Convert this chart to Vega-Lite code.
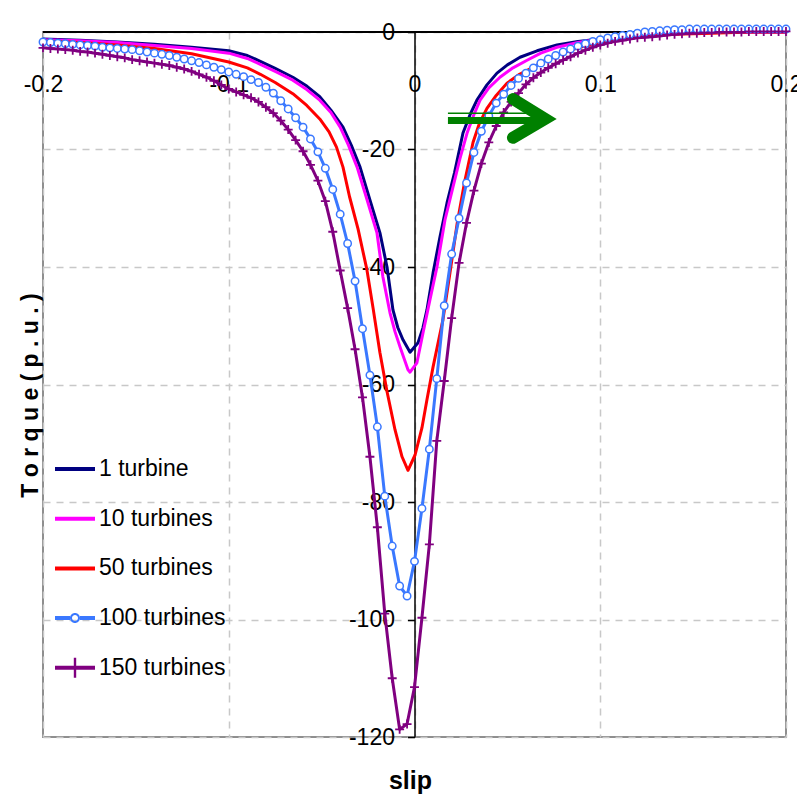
{
  "$schema": "https://vega.github.io/schema/vega-lite/v6.json",
  "width": 743,
  "height": 705,
  "autosize": "none",
  "padding": {"left": 43, "top": 32, "right": 11, "bottom": 61},
  "background": "white",
  "config": {
    "view": {"stroke": "#8f8f8f", "strokeWidth": 2},
    "font": "Liberation Sans, Arial, sans-serif"
  },
  "data": {
    "values": [
      {"series": "1 turbine", "slip": -0.2, "torque": -1.2},
      {"series": "1 turbine", "slip": -0.18, "torque": -1.4},
      {"series": "1 turbine", "slip": -0.16, "torque": -1.7},
      {"series": "1 turbine", "slip": -0.14, "torque": -2.1},
      {"series": "1 turbine", "slip": -0.12, "torque": -2.6},
      {"series": "1 turbine", "slip": -0.1, "torque": -3.2},
      {"series": "1 turbine", "slip": -0.09, "torque": -4.0},
      {"series": "1 turbine", "slip": -0.083, "torque": -5.0},
      {"series": "1 turbine", "slip": -0.075, "torque": -6.2},
      {"series": "1 turbine", "slip": -0.0655, "torque": -7.7},
      {"series": "1 turbine", "slip": -0.058, "torque": -9.2},
      {"series": "1 turbine", "slip": -0.051, "torque": -11.0},
      {"series": "1 turbine", "slip": -0.045, "torque": -13.3},
      {"series": "1 turbine", "slip": -0.0385, "torque": -16.2},
      {"series": "1 turbine", "slip": -0.034, "torque": -19.3},
      {"series": "1 turbine", "slip": -0.0293, "torque": -23.0},
      {"series": "1 turbine", "slip": -0.024, "torque": -28.6},
      {"series": "1 turbine", "slip": -0.0186, "torque": -34.2},
      {"series": "1 turbine", "slip": -0.0148, "torque": -40.0},
      {"series": "1 turbine", "slip": -0.0116, "torque": -47.3},
      {"series": "1 turbine", "slip": -0.009, "torque": -50.3},
      {"series": "1 turbine", "slip": -0.0062, "torque": -52.4},
      {"series": "1 turbine", "slip": -0.0024, "torque": -54.5},
      {"series": "1 turbine", "slip": 0.0019, "torque": -52.9},
      {"series": "1 turbine", "slip": 0.0045, "torque": -50.4},
      {"series": "1 turbine", "slip": 0.0067, "torque": -47.3},
      {"series": "1 turbine", "slip": 0.01, "torque": -41.0},
      {"series": "1 turbine", "slip": 0.0137, "torque": -34.9},
      {"series": "1 turbine", "slip": 0.0175, "torque": -29.1},
      {"series": "1 turbine", "slip": 0.0215, "torque": -24.0},
      {"series": "1 turbine", "slip": 0.0261, "torque": -17.2},
      {"series": "1 turbine", "slip": 0.03, "torque": -14.0},
      {"series": "1 turbine", "slip": 0.0336, "torque": -11.6},
      {"series": "1 turbine", "slip": 0.039, "torque": -9.0},
      {"series": "1 turbine", "slip": 0.0444, "torque": -7.0},
      {"series": "1 turbine", "slip": 0.05, "torque": -5.6},
      {"series": "1 turbine", "slip": 0.0568, "torque": -4.3},
      {"series": "1 turbine", "slip": 0.066, "torque": -3.2},
      {"series": "1 turbine", "slip": 0.0767, "torque": -2.2},
      {"series": "1 turbine", "slip": 0.088, "torque": -1.6},
      {"series": "1 turbine", "slip": 0.1, "torque": -1.2},
      {"series": "1 turbine", "slip": 0.12, "torque": -0.6},
      {"series": "1 turbine", "slip": 0.14, "torque": -0.3},
      {"series": "1 turbine", "slip": 0.16, "torque": -0.1},
      {"series": "1 turbine", "slip": 0.18, "torque": 0.0},
      {"series": "1 turbine", "slip": 0.2, "torque": 0.0},

      {"series": "10 turbines", "slip": -0.2, "torque": -1.3},
      {"series": "10 turbines", "slip": -0.18, "torque": -1.5},
      {"series": "10 turbines", "slip": -0.16, "torque": -1.8},
      {"series": "10 turbines", "slip": -0.14, "torque": -2.3},
      {"series": "10 turbines", "slip": -0.12, "torque": -2.8},
      {"series": "10 turbines", "slip": -0.1, "torque": -3.6},
      {"series": "10 turbines", "slip": -0.09, "torque": -4.5},
      {"series": "10 turbines", "slip": -0.083, "torque": -5.5},
      {"series": "10 turbines", "slip": -0.075, "torque": -6.7},
      {"series": "10 turbines", "slip": -0.0655, "torque": -8.2},
      {"series": "10 turbines", "slip": -0.058, "torque": -9.8},
      {"series": "10 turbines", "slip": -0.051, "torque": -11.6},
      {"series": "10 turbines", "slip": -0.045, "torque": -13.7},
      {"series": "10 turbines", "slip": -0.04, "torque": -16.2},
      {"series": "10 turbines", "slip": -0.0355, "torque": -19.3},
      {"series": "10 turbines", "slip": -0.0309, "torque": -23.0},
      {"series": "10 turbines", "slip": -0.0255, "torque": -28.6},
      {"series": "10 turbines", "slip": -0.0202, "torque": -34.2},
      {"series": "10 turbines", "slip": -0.017, "torque": -41.7},
      {"series": "10 turbines", "slip": -0.0132, "torque": -47.8},
      {"series": "10 turbines", "slip": -0.0105, "torque": -51.0},
      {"series": "10 turbines", "slip": -0.0078, "torque": -53.6},
      {"series": "10 turbines", "slip": -0.0035, "torque": -57.5},
      {"series": "10 turbines", "slip": -0.0024, "torque": -57.9},
      {"series": "10 turbines", "slip": 0.0013, "torque": -56.3},
      {"series": "10 turbines", "slip": 0.0046, "torque": -51.2},
      {"series": "10 turbines", "slip": 0.0083, "torque": -45.6},
      {"series": "10 turbines", "slip": 0.0121, "torque": -40.0},
      {"series": "10 turbines", "slip": 0.0164, "torque": -32.0},
      {"series": "10 turbines", "slip": 0.0207, "torque": -26.4},
      {"series": "10 turbines", "slip": 0.0245, "torque": -21.5},
      {"series": "10 turbines", "slip": 0.0283, "torque": -17.2},
      {"series": "10 turbines", "slip": 0.0318, "torque": -14.2},
      {"series": "10 turbines", "slip": 0.0353, "torque": -11.6},
      {"series": "10 turbines", "slip": 0.04, "torque": -9.5},
      {"series": "10 turbines", "slip": 0.046, "torque": -7.7},
      {"series": "10 turbines", "slip": 0.053, "torque": -6.1},
      {"series": "10 turbines", "slip": 0.0606, "torque": -4.8},
      {"series": "10 turbines", "slip": 0.068, "torque": -3.6},
      {"series": "10 turbines", "slip": 0.0767, "torque": -2.6},
      {"series": "10 turbines", "slip": 0.088, "torque": -1.8},
      {"series": "10 turbines", "slip": 0.1, "torque": -1.2},
      {"series": "10 turbines", "slip": 0.12, "torque": -0.6},
      {"series": "10 turbines", "slip": 0.14, "torque": -0.3},
      {"series": "10 turbines", "slip": 0.16, "torque": -0.1},
      {"series": "10 turbines", "slip": 0.18, "torque": 0.0},
      {"series": "10 turbines", "slip": 0.2, "torque": 0.0},

      {"series": "50 turbines", "slip": -0.2, "torque": -1.5},
      {"series": "50 turbines", "slip": -0.18, "torque": -1.8},
      {"series": "50 turbines", "slip": -0.16, "torque": -2.2},
      {"series": "50 turbines", "slip": -0.14, "torque": -2.8},
      {"series": "50 turbines", "slip": -0.12, "torque": -3.7},
      {"series": "50 turbines", "slip": -0.1, "torque": -5.1},
      {"series": "50 turbines", "slip": -0.09, "torque": -6.1},
      {"series": "50 turbines", "slip": -0.083, "torque": -7.2},
      {"series": "50 turbines", "slip": -0.075, "torque": -8.6},
      {"series": "50 turbines", "slip": -0.0655, "torque": -10.5},
      {"series": "50 turbines", "slip": -0.058, "torque": -12.5},
      {"series": "50 turbines", "slip": -0.051, "torque": -14.8},
      {"series": "50 turbines", "slip": -0.046, "torque": -17.0},
      {"series": "50 turbines", "slip": -0.042, "torque": -19.6},
      {"series": "50 turbines", "slip": -0.0385, "torque": -23.0},
      {"series": "50 turbines", "slip": -0.035, "torque": -28.0},
      {"series": "50 turbines", "slip": -0.0304, "torque": -33.5},
      {"series": "50 turbines", "slip": -0.0256, "torque": -40.5},
      {"series": "50 turbines", "slip": -0.0223, "torque": -47.0},
      {"series": "50 turbines", "slip": -0.0186, "torque": -54.6},
      {"series": "50 turbines", "slip": -0.0148, "torque": -61.2},
      {"series": "50 turbines", "slip": -0.0105, "torque": -67.7},
      {"series": "50 turbines", "slip": -0.0067, "torque": -72.3},
      {"series": "50 turbines", "slip": -0.0035, "torque": -74.6},
      {"series": "50 turbines", "slip": 0.0003, "torque": -72.0},
      {"series": "50 turbines", "slip": 0.004, "torque": -67.4},
      {"series": "50 turbines", "slip": 0.0067, "torque": -62.6},
      {"series": "50 turbines", "slip": 0.01, "torque": -57.0},
      {"series": "50 turbines", "slip": 0.0153, "torque": -49.0},
      {"series": "50 turbines", "slip": 0.0191, "torque": -41.0},
      {"series": "50 turbines", "slip": 0.023, "torque": -32.5},
      {"series": "50 turbines", "slip": 0.027, "torque": -25.5},
      {"series": "50 turbines", "slip": 0.0315, "torque": -18.8},
      {"series": "50 turbines", "slip": 0.035, "torque": -15.5},
      {"series": "50 turbines", "slip": 0.039, "torque": -13.0},
      {"series": "50 turbines", "slip": 0.044, "torque": -10.8},
      {"series": "50 turbines", "slip": 0.0498, "torque": -8.7},
      {"series": "50 turbines", "slip": 0.056, "torque": -7.3},
      {"series": "50 turbines", "slip": 0.0638, "torque": -6.0},
      {"series": "50 turbines", "slip": 0.07, "torque": -4.9},
      {"series": "50 turbines", "slip": 0.0767, "torque": -3.9},
      {"series": "50 turbines", "slip": 0.088, "torque": -2.7},
      {"series": "50 turbines", "slip": 0.1, "torque": -1.8},
      {"series": "50 turbines", "slip": 0.12, "torque": -0.9},
      {"series": "50 turbines", "slip": 0.14, "torque": -0.4},
      {"series": "50 turbines", "slip": 0.16, "torque": -0.2},
      {"series": "50 turbines", "slip": 0.18, "torque": 0.0},
      {"series": "50 turbines", "slip": 0.2, "torque": 0.0},

      {"series": "100 turbines", "slip": -0.2, "torque": -1.7},
      {"series": "100 turbines", "slip": -0.196, "torque": -1.8},
      {"series": "100 turbines", "slip": -0.192, "torque": -1.9},
      {"series": "100 turbines", "slip": -0.188, "torque": -2.0},
      {"series": "100 turbines", "slip": -0.184, "torque": -2.1},
      {"series": "100 turbines", "slip": -0.18, "torque": -2.2},
      {"series": "100 turbines", "slip": -0.176, "torque": -2.3},
      {"series": "100 turbines", "slip": -0.172, "torque": -2.4},
      {"series": "100 turbines", "slip": -0.168, "torque": -2.6},
      {"series": "100 turbines", "slip": -0.164, "torque": -2.7},
      {"series": "100 turbines", "slip": -0.16, "torque": -2.8},
      {"series": "100 turbines", "slip": -0.156, "torque": -2.9},
      {"series": "100 turbines", "slip": -0.152, "torque": -3.0},
      {"series": "100 turbines", "slip": -0.148, "torque": -3.2},
      {"series": "100 turbines", "slip": -0.144, "torque": -3.4},
      {"series": "100 turbines", "slip": -0.14, "torque": -3.6},
      {"series": "100 turbines", "slip": -0.136, "torque": -3.8},
      {"series": "100 turbines", "slip": -0.132, "torque": -4.0},
      {"series": "100 turbines", "slip": -0.128, "torque": -4.3},
      {"series": "100 turbines", "slip": -0.124, "torque": -4.6},
      {"series": "100 turbines", "slip": -0.12, "torque": -4.9},
      {"series": "100 turbines", "slip": -0.116, "torque": -5.2},
      {"series": "100 turbines", "slip": -0.112, "torque": -5.6},
      {"series": "100 turbines", "slip": -0.108, "torque": -6.0},
      {"series": "100 turbines", "slip": -0.104, "torque": -6.4},
      {"series": "100 turbines", "slip": -0.1, "torque": -6.8},
      {"series": "100 turbines", "slip": -0.096, "torque": -7.2},
      {"series": "100 turbines", "slip": -0.092, "torque": -7.6},
      {"series": "100 turbines", "slip": -0.088, "torque": -8.1},
      {"series": "100 turbines", "slip": -0.084, "torque": -8.6},
      {"series": "100 turbines", "slip": -0.08, "torque": -9.4},
      {"series": "100 turbines", "slip": -0.076, "torque": -10.4},
      {"series": "100 turbines", "slip": -0.072, "torque": -11.7},
      {"series": "100 turbines", "slip": -0.068, "torque": -13.1},
      {"series": "100 turbines", "slip": -0.064, "torque": -14.6},
      {"series": "100 turbines", "slip": -0.06, "torque": -16.2},
      {"series": "100 turbines", "slip": -0.056, "torque": -18.2},
      {"series": "100 turbines", "slip": -0.052, "torque": -20.4},
      {"series": "100 turbines", "slip": -0.048, "torque": -23.2},
      {"series": "100 turbines", "slip": -0.044, "torque": -26.8},
      {"series": "100 turbines", "slip": -0.04, "torque": -31.0},
      {"series": "100 turbines", "slip": -0.036, "torque": -36.0},
      {"series": "100 turbines", "slip": -0.032, "torque": -42.4},
      {"series": "100 turbines", "slip": -0.028, "torque": -50.5},
      {"series": "100 turbines", "slip": -0.024, "torque": -58.4},
      {"series": "100 turbines", "slip": -0.02, "torque": -67.2},
      {"series": "100 turbines", "slip": -0.016, "torque": -79.0},
      {"series": "100 turbines", "slip": -0.012, "torque": -87.5},
      {"series": "100 turbines", "slip": -0.008, "torque": -94.3},
      {"series": "100 turbines", "slip": -0.004, "torque": -96.0},
      {"series": "100 turbines", "slip": 0.0, "torque": -90.1},
      {"series": "100 turbines", "slip": 0.004, "torque": -81.1},
      {"series": "100 turbines", "slip": 0.008, "torque": -71.0},
      {"series": "100 turbines", "slip": 0.012, "torque": -59.0},
      {"series": "100 turbines", "slip": 0.016, "torque": -46.6},
      {"series": "100 turbines", "slip": 0.02, "torque": -37.8},
      {"series": "100 turbines", "slip": 0.024, "torque": -31.7},
      {"series": "100 turbines", "slip": 0.028, "torque": -25.7},
      {"series": "100 turbines", "slip": 0.032, "torque": -20.5},
      {"series": "100 turbines", "slip": 0.036, "torque": -16.9},
      {"series": "100 turbines", "slip": 0.04, "torque": -14.3},
      {"series": "100 turbines", "slip": 0.044, "torque": -12.1},
      {"series": "100 turbines", "slip": 0.048, "torque": -10.6},
      {"series": "100 turbines", "slip": 0.052, "torque": -9.1},
      {"series": "100 turbines", "slip": 0.056, "torque": -7.9},
      {"series": "100 turbines", "slip": 0.06, "torque": -7.0},
      {"series": "100 turbines", "slip": 0.064, "torque": -6.1},
      {"series": "100 turbines", "slip": 0.068, "torque": -5.3},
      {"series": "100 turbines", "slip": 0.072, "torque": -4.6},
      {"series": "100 turbines", "slip": 0.076, "torque": -4.0},
      {"series": "100 turbines", "slip": 0.08, "torque": -3.4},
      {"series": "100 turbines", "slip": 0.084, "torque": -2.9},
      {"series": "100 turbines", "slip": 0.088, "torque": -2.4},
      {"series": "100 turbines", "slip": 0.092, "torque": -2.0},
      {"series": "100 turbines", "slip": 0.096, "torque": -1.6},
      {"series": "100 turbines", "slip": 0.1, "torque": -1.3},
      {"series": "100 turbines", "slip": 0.104, "torque": -1.0},
      {"series": "100 turbines", "slip": 0.108, "torque": -0.8},
      {"series": "100 turbines", "slip": 0.112, "torque": -0.6},
      {"series": "100 turbines", "slip": 0.116, "torque": -0.4},
      {"series": "100 turbines", "slip": 0.12, "torque": -0.2},
      {"series": "100 turbines", "slip": 0.124, "torque": 0.0},
      {"series": "100 turbines", "slip": 0.128, "torque": 0.1},
      {"series": "100 turbines", "slip": 0.132, "torque": 0.2},
      {"series": "100 turbines", "slip": 0.136, "torque": 0.3},
      {"series": "100 turbines", "slip": 0.14, "torque": 0.4},
      {"series": "100 turbines", "slip": 0.144, "torque": 0.4},
      {"series": "100 turbines", "slip": 0.148, "torque": 0.5},
      {"series": "100 turbines", "slip": 0.152, "torque": 0.5},
      {"series": "100 turbines", "slip": 0.156, "torque": 0.5},
      {"series": "100 turbines", "slip": 0.16, "torque": 0.5},
      {"series": "100 turbines", "slip": 0.164, "torque": 0.5},
      {"series": "100 turbines", "slip": 0.168, "torque": 0.5},
      {"series": "100 turbines", "slip": 0.172, "torque": 0.5},
      {"series": "100 turbines", "slip": 0.176, "torque": 0.5},
      {"series": "100 turbines", "slip": 0.18, "torque": 0.5},
      {"series": "100 turbines", "slip": 0.184, "torque": 0.5},
      {"series": "100 turbines", "slip": 0.188, "torque": 0.5},
      {"series": "100 turbines", "slip": 0.192, "torque": 0.5},
      {"series": "100 turbines", "slip": 0.196, "torque": 0.5},
      {"series": "100 turbines", "slip": 0.2, "torque": 0.5},

      {"series": "150 turbines", "slip": -0.2, "torque": -2.7},
      {"series": "150 turbines", "slip": -0.196, "torque": -2.8},
      {"series": "150 turbines", "slip": -0.192, "torque": -2.9},
      {"series": "150 turbines", "slip": -0.188, "torque": -3.0},
      {"series": "150 turbines", "slip": -0.184, "torque": -3.1},
      {"series": "150 turbines", "slip": -0.18, "torque": -3.3},
      {"series": "150 turbines", "slip": -0.176, "torque": -3.4},
      {"series": "150 turbines", "slip": -0.172, "torque": -3.6},
      {"series": "150 turbines", "slip": -0.168, "torque": -3.8},
      {"series": "150 turbines", "slip": -0.164, "torque": -4.0},
      {"series": "150 turbines", "slip": -0.16, "torque": -4.2},
      {"series": "150 turbines", "slip": -0.156, "torque": -4.4},
      {"series": "150 turbines", "slip": -0.152, "torque": -4.7},
      {"series": "150 turbines", "slip": -0.148, "torque": -4.9},
      {"series": "150 turbines", "slip": -0.144, "torque": -5.1},
      {"series": "150 turbines", "slip": -0.14, "torque": -5.3},
      {"series": "150 turbines", "slip": -0.136, "torque": -5.5},
      {"series": "150 turbines", "slip": -0.132, "torque": -5.7},
      {"series": "150 turbines", "slip": -0.128, "torque": -6.0},
      {"series": "150 turbines", "slip": -0.124, "torque": -6.3},
      {"series": "150 turbines", "slip": -0.12, "torque": -6.7},
      {"series": "150 turbines", "slip": -0.116, "torque": -7.2},
      {"series": "150 turbines", "slip": -0.112, "torque": -7.7},
      {"series": "150 turbines", "slip": -0.108, "torque": -8.3},
      {"series": "150 turbines", "slip": -0.104, "torque": -9.0},
      {"series": "150 turbines", "slip": -0.1, "torque": -9.7},
      {"series": "150 turbines", "slip": -0.096, "torque": -10.2},
      {"series": "150 turbines", "slip": -0.092, "torque": -10.7},
      {"series": "150 turbines", "slip": -0.088, "torque": -11.2},
      {"series": "150 turbines", "slip": -0.084, "torque": -11.9},
      {"series": "150 turbines", "slip": -0.08, "torque": -12.8},
      {"series": "150 turbines", "slip": -0.076, "torque": -13.8},
      {"series": "150 turbines", "slip": -0.072, "torque": -15.1},
      {"series": "150 turbines", "slip": -0.068, "torque": -16.6},
      {"series": "150 turbines", "slip": -0.064, "torque": -18.4},
      {"series": "150 turbines", "slip": -0.06, "torque": -20.3},
      {"series": "150 turbines", "slip": -0.056, "torque": -22.6},
      {"series": "150 turbines", "slip": -0.052, "torque": -25.3},
      {"series": "150 turbines", "slip": -0.048, "torque": -28.8},
      {"series": "150 turbines", "slip": -0.044, "torque": -34.0},
      {"series": "150 turbines", "slip": -0.04, "torque": -40.6},
      {"series": "150 turbines", "slip": -0.036, "torque": -47.0},
      {"series": "150 turbines", "slip": -0.032, "torque": -54.0},
      {"series": "150 turbines", "slip": -0.028, "torque": -62.2},
      {"series": "150 turbines", "slip": -0.024, "torque": -72.3},
      {"series": "150 turbines", "slip": -0.02, "torque": -84.3},
      {"series": "150 turbines", "slip": -0.016, "torque": -99.0},
      {"series": "150 turbines", "slip": -0.012, "torque": -110.0},
      {"series": "150 turbines", "slip": -0.008, "torque": -118.7},
      {"series": "150 turbines", "slip": -0.004, "torque": -117.8},
      {"series": "150 turbines", "slip": 0.0, "torque": -111.5},
      {"series": "150 turbines", "slip": 0.004, "torque": -99.7},
      {"series": "150 turbines", "slip": 0.008, "torque": -87.2},
      {"series": "150 turbines", "slip": 0.012, "torque": -69.6},
      {"series": "150 turbines", "slip": 0.016, "torque": -59.4},
      {"series": "150 turbines", "slip": 0.02, "torque": -48.7},
      {"series": "150 turbines", "slip": 0.024, "torque": -39.3},
      {"series": "150 turbines", "slip": 0.028, "torque": -32.5},
      {"series": "150 turbines", "slip": 0.032, "torque": -27.0},
      {"series": "150 turbines", "slip": 0.036, "torque": -22.4},
      {"series": "150 turbines", "slip": 0.04, "torque": -18.8},
      {"series": "150 turbines", "slip": 0.044, "torque": -16.0},
      {"series": "150 turbines", "slip": 0.048, "torque": -13.7},
      {"series": "150 turbines", "slip": 0.052, "torque": -11.9},
      {"series": "150 turbines", "slip": 0.056, "torque": -10.4},
      {"series": "150 turbines", "slip": 0.06, "torque": -8.9},
      {"series": "150 turbines", "slip": 0.064, "torque": -7.8},
      {"series": "150 turbines", "slip": 0.068, "torque": -6.9},
      {"series": "150 turbines", "slip": 0.072, "torque": -6.1},
      {"series": "150 turbines", "slip": 0.076, "torque": -5.4},
      {"series": "150 turbines", "slip": 0.08, "torque": -4.8},
      {"series": "150 turbines", "slip": 0.084, "torque": -4.2},
      {"series": "150 turbines", "slip": 0.088, "torque": -3.6},
      {"series": "150 turbines", "slip": 0.092, "torque": -3.1},
      {"series": "150 turbines", "slip": 0.096, "torque": -2.6},
      {"series": "150 turbines", "slip": 0.1, "torque": -2.2},
      {"series": "150 turbines", "slip": 0.104, "torque": -1.9},
      {"series": "150 turbines", "slip": 0.108, "torque": -1.6},
      {"series": "150 turbines", "slip": 0.112, "torque": -1.4},
      {"series": "150 turbines", "slip": 0.116, "torque": -1.2},
      {"series": "150 turbines", "slip": 0.12, "torque": -1.0},
      {"series": "150 turbines", "slip": 0.124, "torque": -0.9},
      {"series": "150 turbines", "slip": 0.128, "torque": -0.8},
      {"series": "150 turbines", "slip": 0.132, "torque": -0.7},
      {"series": "150 turbines", "slip": 0.136, "torque": -0.5},
      {"series": "150 turbines", "slip": 0.14, "torque": -0.4},
      {"series": "150 turbines", "slip": 0.144, "torque": -0.3},
      {"series": "150 turbines", "slip": 0.148, "torque": -0.2},
      {"series": "150 turbines", "slip": 0.152, "torque": -0.2},
      {"series": "150 turbines", "slip": 0.156, "torque": -0.1},
      {"series": "150 turbines", "slip": 0.16, "torque": -0.1},
      {"series": "150 turbines", "slip": 0.164, "torque": 0.0},
      {"series": "150 turbines", "slip": 0.168, "torque": 0.0},
      {"series": "150 turbines", "slip": 0.172, "torque": 0.0},
      {"series": "150 turbines", "slip": 0.176, "torque": 0.0},
      {"series": "150 turbines", "slip": 0.18, "torque": 0.1},
      {"series": "150 turbines", "slip": 0.184, "torque": 0.1},
      {"series": "150 turbines", "slip": 0.188, "torque": 0.1},
      {"series": "150 turbines", "slip": 0.192, "torque": 0.1},
      {"series": "150 turbines", "slip": 0.196, "torque": 0.1},
      {"series": "150 turbines", "slip": 0.2, "torque": 0.1}
    ]
  },
  "layer": [
    {
      "mark": {"type": "rule", "color": "black", "strokeWidth": 1.5},
      "encoding": {"y": {"datum": 0}}
    },
    {
      "mark": {"type": "line", "strokeWidth": 3, "strokeJoin": "round"},
      "encoding": {
        "x": {
          "field": "slip",
          "type": "quantitative",
          "scale": {"domain": [-0.2, 0.2], "nice": false, "zero": false},
          "axis": {
            "orient": "bottom",
            "offset": -653,
            "values": [-0.2, -0.1, 0, 0.1, 0.2],
            "labelExpr": "datum.value == 0 ? '0' : (datum.value < 0 ? '-' : '') + format(abs(datum.value), '.1f')",
            "labelFontSize": 23,
            "labelColor": "black",
            "labelFlush": false,
            "labelPadding": 0,
            "labelBaseline": "middle",
            "labelOverlap": false,
            "domain": false,
            "ticks": false,
            "grid": true,
            "gridColor": "#c8c8c8",
            "gridDash": [7, 6],
            "gridWidth": 1.5,
            "title": "slip",
            "titleFontSize": 25,
            "titleFontWeight": "bold",
            "titleColor": "black",
            "titleX": 367,
            "titleY": 696,
            "titleAlign": "center",
            "titleBaseline": "middle"
          }
        },
        "y": {
          "field": "torque",
          "type": "quantitative",
          "scale": {"domain": [-120, 0], "nice": false, "zero": false},
          "axis": {
            "orient": "left",
            "offset": -371.5,
            "values": [0, -20, -40, -60, -80, -100, -120],
            "labelExpr": "datum.value == 0 ? '0' : '-' + format(abs(datum.value), 'd')",
            "labelFontSize": 23,
            "labelColor": "black",
            "labelPadding": 13,
            "labelOverlap": false,
            "domainColor": "black",
            "domainWidth": 1.5,
            "tickColor": "black",
            "tickWidth": 1.5,
            "tickSize": 7,
            "grid": true,
            "gridColor": "#c8c8c8",
            "gridDash": [7, 6],
            "gridWidth": 1.5,
            "title": "T o r q u e  ( p . u . )",
            "titleFontSize": 23,
            "titleFontWeight": "bold",
            "titleColor": "black",
            "titleX": -384.5,
            "titleY": 363,
            "titleAngle": 270,
            "titleAlign": "center",
            "titleBaseline": "middle"
          }
        },
        "color": {
          "field": "series",
          "type": "nominal",
          "scale": {
            "domain": ["1 turbine", "10 turbines", "50 turbines", "100 turbines", "150 turbines"],
            "range": ["#000080", "#ff00ff", "#ff0000", "#3a78ff", "#800080"]
          },
          "legend": {
            "title": null,
            "orient": "none",
            "legendX": 12,
            "legendY": 417,
            "padding": 0,
            "labelFontSize": 23,
            "labelColor": "black",
            "labelLimit": 300,
            "labelOffset": 4,
            "rowPadding": 17.7,
            "symbolSize": 1600,
            "symbolStrokeWidth": 0,
            "encode": {
              "symbols": {
                "update": {
                  "shape": {"signal": "datum.value === '100 turbines' ? 'M-1,-0.1H-0.25V0.1H-1Z M0.25,-0.1H1V0.1H0.25Z M0.25,0A0.25,0.25,0,1,1,-0.25,0A0.25,0.25,0,1,1,0.25,0Z M0.15,0A0.15,0.15,0,1,0,-0.15,0A0.15,0.15,0,1,0,0.15,0Z' : datum.value === '150 turbines' ? 'M-1,-0.1H1V0.1H-1Z M-0.06,-0.5H0.06V0.5H-0.06Z' : 'M-1,-0.1H1V0.1H-1Z'"},
                  "fill": {"scale": "color", "field": "value"},
                  "fillOpacity": {"value": 1},
                  "strokeWidth": {"value": 0}
                }
              }
            }
          }
        }
      }
    },
    {
      "transform": [{"filter": "datum.series === '100 turbines'"}],
      "mark": {"type": "point", "shape": "circle", "size": 55, "fill": "white", "stroke": "#3a78ff", "strokeWidth": 1.5, "opacity": 1},
      "encoding": {
        "x": {"field": "slip", "type": "quantitative"},
        "y": {"field": "torque", "type": "quantitative"}
      }
    },
    {
      "transform": [{"filter": "datum.series === '150 turbines'"}],
      "mark": {"type": "point", "shape": "M-1,0H1M0,-1V1", "size": 80, "filled": false, "stroke": "#800080", "strokeWidth": 1.8, "opacity": 1},
      "encoding": {
        "x": {"field": "slip", "type": "quantitative"},
        "y": {"field": "torque", "type": "quantitative"}
      }
    },
    {
      "data": {
        "values": [
          {"part": "thin", "slip": 0.018, "torque": -13.85},
          {"part": "thin", "slip": 0.062, "torque": -13.85}
        ]
      },
      "mark": {"type": "line", "color": "#008000", "strokeWidth": 1.5},
      "encoding": {
        "x": {"field": "slip", "type": "quantitative"},
        "y": {"field": "torque", "type": "quantitative"}
      }
    },
    {
      "data": {
        "values": [
          {"part": "shaft", "slip": 0.018, "torque": -15.05},
          {"part": "shaft", "slip": 0.068, "torque": -15.05}
        ]
      },
      "mark": {"type": "line", "color": "#008000", "strokeWidth": 7},
      "encoding": {
        "x": {"field": "slip", "type": "quantitative"},
        "y": {"field": "torque", "type": "quantitative"}
      }
    },
    {
      "data": {
        "values": [
          {"part": "head", "vertex": 1, "slip": 0.053, "torque": -11.4},
          {"part": "head", "vertex": 2, "slip": 0.0703, "torque": -14.8},
          {"part": "head", "vertex": 3, "slip": 0.053, "torque": -18.0}
        ]
      },
      "mark": {"type": "line", "color": "#008000", "strokeWidth": 12, "strokeCap": "round", "strokeJoin": "miter"},
      "encoding": {
        "x": {"field": "slip", "type": "quantitative"},
        "y": {"field": "torque", "type": "quantitative"},
        "order": {"field": "vertex", "type": "quantitative"}
      }
    }
  ]
}
